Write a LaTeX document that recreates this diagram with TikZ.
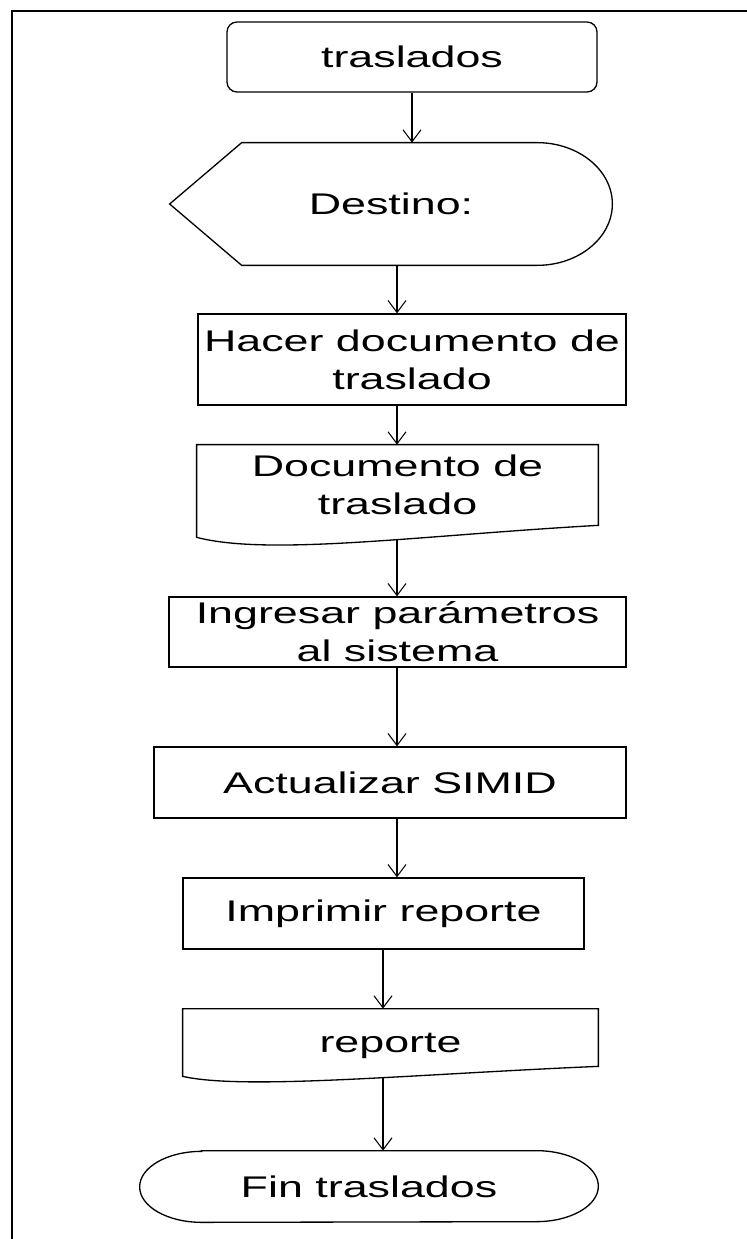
\documentclass[tikz,border=0pt]{standalone}
\usepackage{fontspec}
\setmainfont{Liberation Sans}[FakeStretch=1.5]
\usepackage{tikz}
\usetikzlibrary{arrows.meta,positioning,calc}
\newcommand{\flowfont}{\fontsize{17}{21.6}\selectfont}
\tikzset{
  block/.style={draw=black, line width=0.75pt, inner sep=0pt, align=center, font=\flowfont},
  holder/.style={inner sep=0pt, align=center, font=\flowfont},
  outline/.style={draw=black, line width=0.75pt},
  arrow/.style={-{Straight Barb[length=2.4mm,width=3.6mm]}, line width=0.6pt, draw=black},
  frame/.style={draw=black, line width=1.15pt}
}

\begin{document}
\begin{tikzpicture}[x=1cm,y=1cm]
  \useasboundingbox (0,0) rectangle (14.92,-24.78);
  \draw[frame] (0.24,-24.9) -- (0.24,-0.22) -- (15.0,-0.22);

  \node[block,rounded corners=0.2cm,minimum width=7.40cm,minimum height=1.40cm] (start) at (8.24,-1.14) {traslados};
  \node[holder,minimum width=8.84cm,minimum height=2.44cm] (dest) at (7.82,-4.08) {Destino:};
  \node[block,minimum width=8.56cm,minimum height=1.82cm] (hacer) at (8.24,-7.19) {Hacer documento de\\traslado};
  \node[holder,minimum width=8.02cm,minimum height=1.60cm] (doc1) at (7.95,-9.70) {Documento de\\traslado};
  \node[block,minimum width=9.14cm,minimum height=1.40cm] (param) at (7.95,-12.64) {Ingresar parámetros\\al sistema};
  \node[block,minimum width=9.44cm,minimum height=1.42cm] (act) at (7.80,-15.65) {Actualizar SIMID};
  \node[block,minimum width=8.02cm,minimum height=1.42cm] (imp) at (7.67,-18.27) {Imprimir reporte};
  \node[holder,minimum width=8.30cm,minimum height=1.14cm,text height=0.58cm,text depth=0pt] (doc2) at (7.81,-20.75) {reporte};
  \node[holder,minimum width=9.16cm,minimum height=1.42cm] (fin) at (7.38,-23.73) {Fin traslados};

  \draw[outline] (dest.west) -- ([xshift=1.44cm]dest.north west) -- ([xshift=-1.5cm]dest.north east)
    .. controls ([xshift=-0.68cm]dest.north east) and ([yshift=0.68cm]dest.east) .. (dest.east)
    .. controls ([yshift=-0.68cm]dest.east) and ([xshift=-0.68cm]dest.south east) .. ([xshift=-1.5cm]dest.south east)
    -- ([xshift=1.44cm]dest.south west) -- cycle;
  \draw[outline] (doc1.north west) -- (doc1.north east) -- (doc1.south east)
    .. controls ([xshift=-3.56cm,yshift=-0.2cm]doc1.south east) and ([xshift=1.46cm,yshift=-0.62cm]doc1.south west)
    .. ([yshift=-0.24cm]doc1.south west) -- cycle;
  \draw[outline] (doc2.north west) -- (doc2.north east) -- (doc2.south east)
    .. controls ([xshift=-3.76cm,yshift=-0.16cm]doc2.south east) and ([xshift=1.24cm,yshift=-0.48cm]doc2.south west)
    .. ([yshift=-0.2cm]doc2.south west) -- cycle;
  \draw[outline] ([xshift=1.24cm]fin.north west) -- ([xshift=-1.24cm]fin.north east)
    arc[start angle=90,end angle=-90,x radius=1.24cm,y radius=0.71cm]
    -- ([xshift=1.24cm]fin.south west)
    arc[start angle=270,end angle=90,x radius=1.24cm,y radius=0.71cm] -- cycle;

  \coordinate (spineA) at (7.94,0);
  \coordinate (spineB) at (7.66,0);
  \coordinate (doc1tail) at ($(doc1.south -| spineA)+(0,-0.29)$);
  \coordinate (doc2tail) at ($(doc2.south -| spineB)+(0,-0.22)$);

  \draw[arrow] (start.south) -- (start.south |- dest.north);
  \draw[arrow] (dest.south -| spineA) -- (hacer.north -| spineA);
  \draw[arrow] (hacer.south -| spineA) -- (doc1.north -| spineA);
  \draw[arrow] (doc1tail) -- (param.north -| spineA);
  \draw[arrow] (param.south -| spineA) -- (act.north -| spineA);
  \draw[arrow] (act.south -| spineA) -- (imp.north -| spineA);
  \draw[arrow] (imp.south -| spineB) -- (doc2.north -| spineB);
  \draw[arrow] (doc2tail) -- (fin.north -| spineB);
\end{tikzpicture}
\end{document}
